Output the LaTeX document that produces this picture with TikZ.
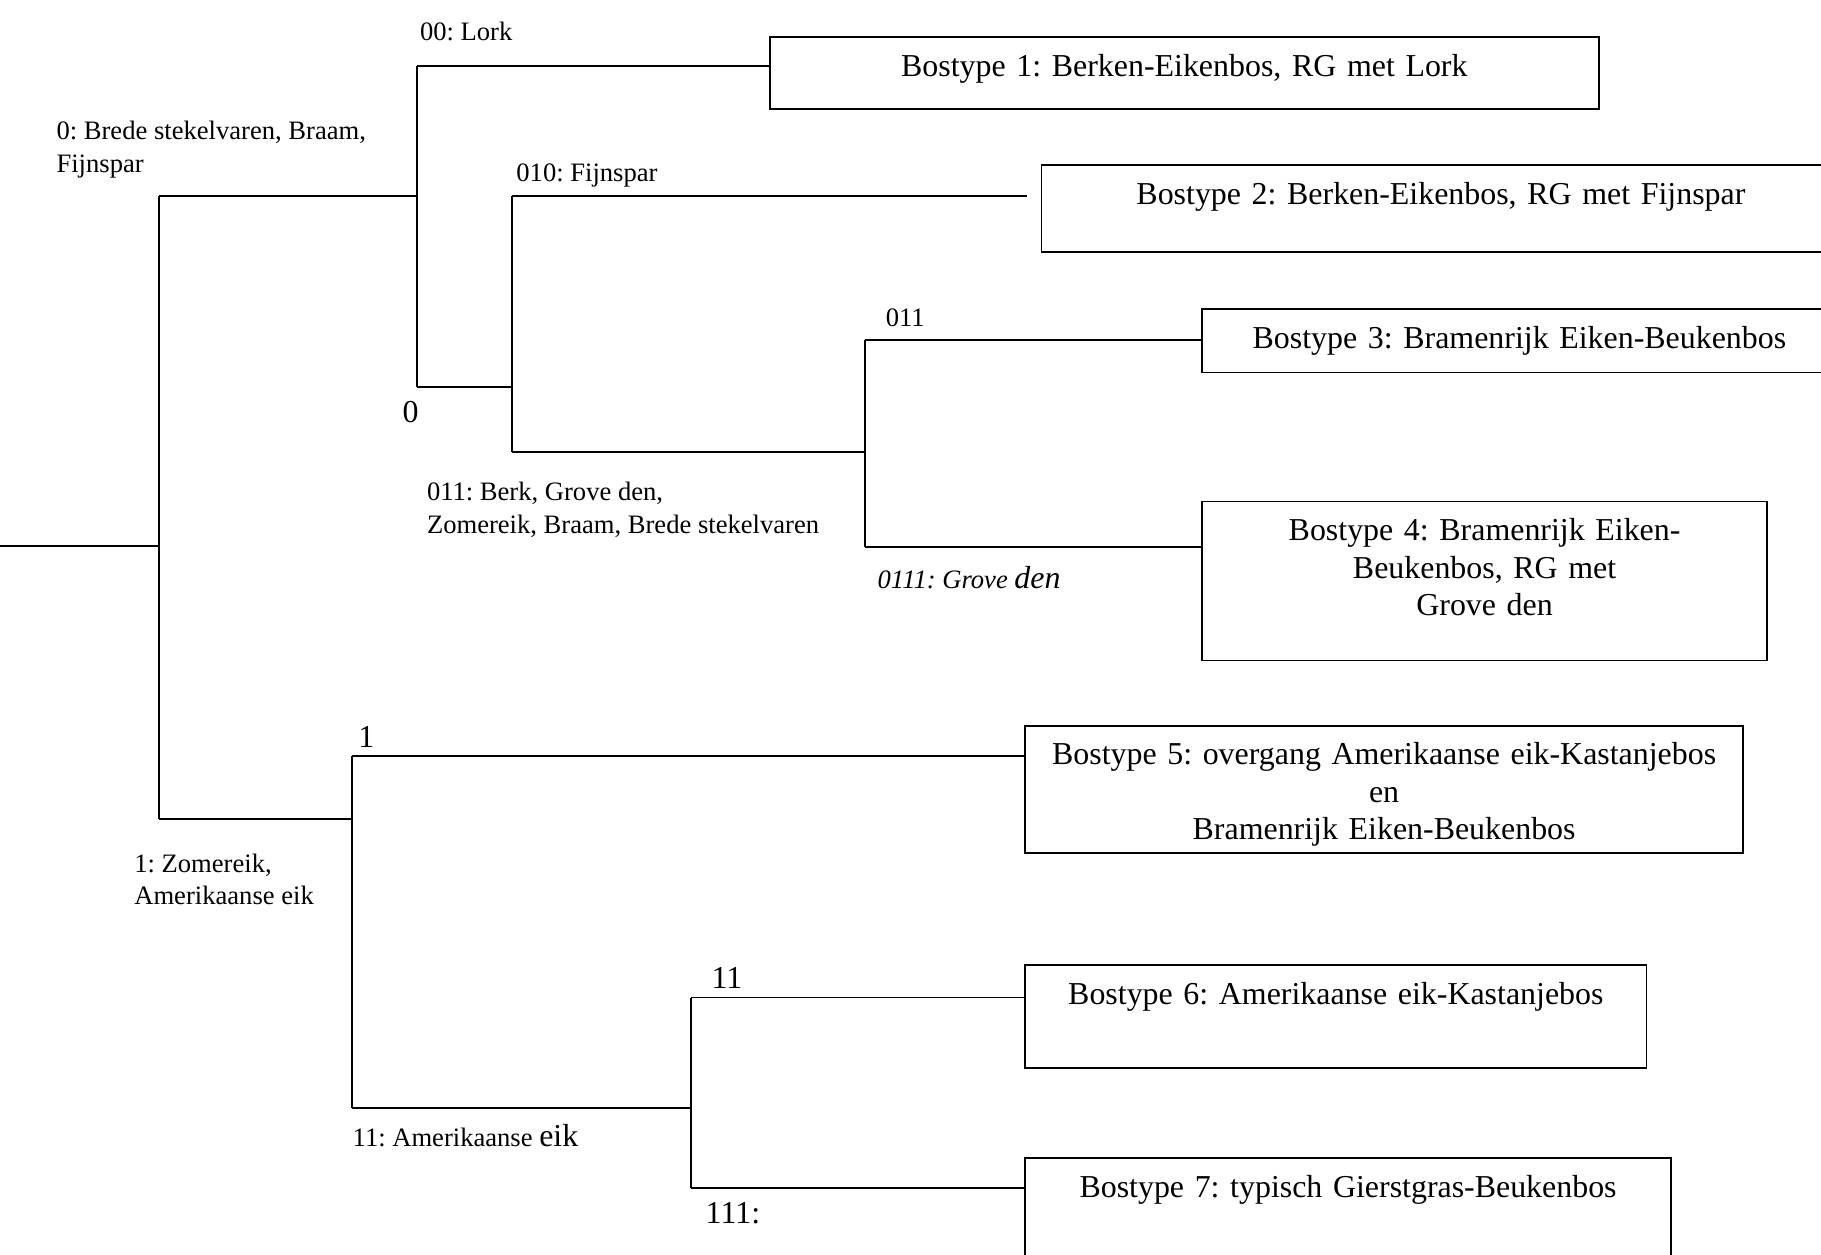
\documentclass[tikz,border=0pt]{standalone}
\usepackage{fontspec}
\setmainfont{Liberation Serif}
\frenchspacing
\newcommand{\groot}{\fontsize{12}{14}\selectfont}

\begin{document}
\begin{tikzpicture}[x=0.4367pt,y=-0.4367pt,line width=0.6pt,
    every node/.style={inner sep=0pt},
    lbl/.style={anchor=west,align=left,font=\fontsize{10}{12.2}\selectfont},
    num/.style={anchor=west,font=\groot},
    box/.style={draw,anchor=north west,align=center,font=\groot,text height=14.8pt,line width=0.7pt}]
  \useasboundingbox (0,0) rectangle (1568,1080);
  % bostypes
  \node[box,text width=311.8pt,text depth=12.3pt] (bt1) at (662,31) {Bostype 1: Berken-Eikenbos, RG met Lork};
  \node[box,text width=300.4pt,text depth=18.0pt] (bt2) at (896,141) {Bostype 2: Berken-Eikenbos, RG met Fijnspar};
  \node[box,text width=238.9pt,text depth=9.2pt] (bt3) at (1034,265) {Bostype 3: Bramenrijk Eiken-Beukenbos};
  \node[box,text width=212.7pt,text depth=45.0pt] (bt4) at (1034,431) {Bostype 4: Bramenrijk Eiken-\\Beukenbos, RG met\\Grove den};
  \node[box,text width=269.9pt,text depth=33.2pt] (bt5) at (882,624) {Bostype 5: overgang Amerikaanse eik-Kastanjebos\\en\\Bramenrijk Eiken-Beukenbos};
  \node[box,text width=233.6pt,text depth=24.1pt] (bt6) at (882,830) {Bostype 6: Amerikaanse eik-Kastanjebos};
  \node[box,text width=242.8pt,text depth=28.9pt] (bt7) at (882,996) {Bostype 7: typisch Gierstgras-Beukenbos};
  % splits
  \coordinate (root) at (0,470);
  \coordinate (a0) at (137,169);
  \coordinate (a1) at (137,705);
  \coordinate (b0) at (359,57);
  \coordinate (b1) at (359,333);
  \coordinate (c0) at (441,169);
  \coordinate (c1) at (441,389);
  \coordinate (d0) at (745,293);
  \coordinate (d1) at (745,471);
  \coordinate (e0) at (303,651);
  \coordinate (e1) at (303,954);
  \coordinate (f0) at (595,859);
  \coordinate (f1) at (595,1023);
  \foreach \t/\b in {a0/a1,b0/b1,c0/c1,d0/d1,e0/e1,f0/f1}
    \draw (\t) -- (\b);
  \draw (root) -- (root -| a0);
  \draw (a0) -- (a0 -| b0);
  \draw (b0) -- (b0 -| bt1.west);
  \draw (b1) -- (b1 -| c0);
  \draw[shorten >=5.2pt] (c0) -- (c0 -| bt2.west);
  \draw (c1) -- (c1 -| d0);
  \draw (d0) -- (d0 -| bt3.west);
  \draw (d1) -- (d1 -| bt4.west);
  \draw (a1) -- (a1 -| e0);
  \draw (e0) -- (e0 -| bt5.west);
  \draw (e1) -- (e1 -| f0);
  \draw (f0) -- (f0 -| bt6.west);
  \draw (f1) -- (f1 -| bt7.west);
  % labels
  \node[lbl] (l00) at (361,27) {00: Lork};
  \node[lbl] (l0) at (48,129) {0: Brede stekelvaren, Braam,\\Fijnspar};
  \node[lbl] (l010) at (444,151) {010: Fijnspar};
  \node[num] (n0) at (346,355) {0};
  \node[lbl] (n011) at (762,274) {011};
  \node[lbl] (l011) at (367,439) {011: Berk, Grove den,\\Zomereik, Braam, Brede stekelvaren};
  \node[lbl] (l0111) at (755,497) {\itshape 0111: Grove {\groot den}};
  \node[num] (n1) at (308,635) {1};
  \node[lbl] (l1) at (115,757) {1: Zomereik,\\Amerikaanse eik};
  \node[num] (n11) at (612,842) {11};
  \node[lbl] (l11) at (303,978) {11: Amerikaanse {\groot eik}};
  \node[num] (n111) at (607,1045) {111:};
\end{tikzpicture}
\end{document}
